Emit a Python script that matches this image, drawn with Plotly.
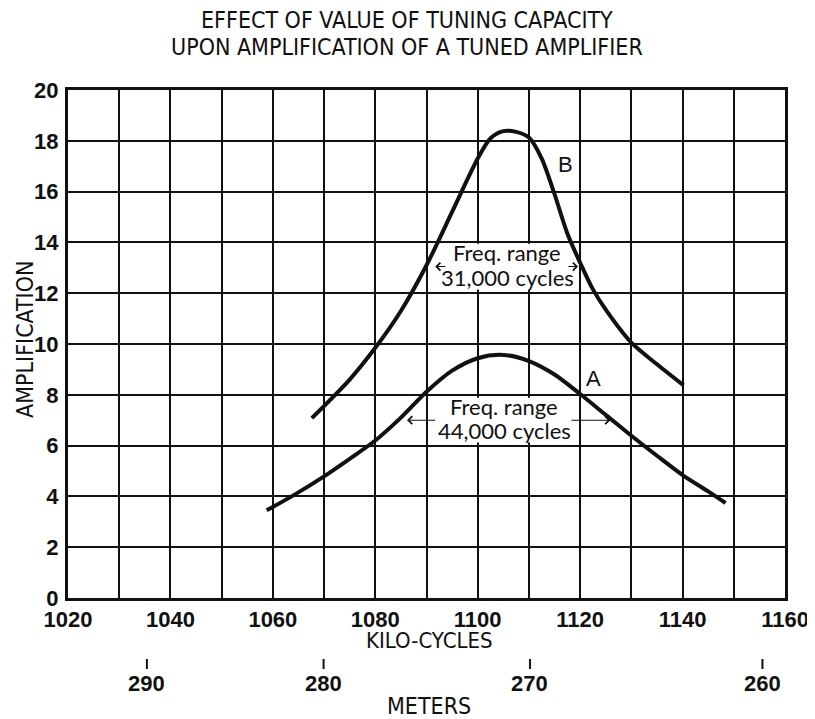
import plotly.graph_objects as go

# ---- data ----
kc_b = [1067.6, 1075, 1080, 1085, 1090, 1095, 1100, 1102.5, 1105, 1107.5, 1110,
        1112.5, 1115, 1117.5, 1120, 1122.5, 1125, 1130, 1135, 1140.2]
amp_b = [7.08, 8.6, 9.85, 11.3, 13.1, 15.2, 17.3, 18.1, 18.38, 18.35, 18.13,
         17.3, 15.9, 14.35, 13.2, 12.15, 11.35, 10.05, 9.2, 8.37]

kc_a = [1058.8, 1064, 1070, 1075, 1080, 1085, 1090, 1095, 1100, 1105,
        1110, 1115, 1120, 1125, 1130, 1135, 1140, 1145, 1148.4]
amp_a = [3.45, 4.04, 4.79, 5.48, 6.2, 7.1, 8.12, 8.95, 9.44, 9.57,
         9.33, 8.8, 8.03, 7.21, 6.39, 5.6, 4.84, 4.2, 3.74]

kc_grid = [1020, 1030, 1040, 1050, 1060, 1070, 1080, 1090, 1100, 1110, 1120, 1130, 1140, 1150, 1160]
kc_labels = ["1020", "", "1040", "", "1060", "", "1080", "", "1100", "", "1120", "", "1140", "", "1160"]
amp_ticks = [0, 2, 4, 6, 8, 10, 12, 14, 16, 18, 20]

meter_pos_kc = [1035.4, 1069.9, 1110.2, 1155.6]
meter_labels = ["290", "280", "270", "260"]

title_lines = ["EFFECT OF VALUE OF TUNING CAPACITY", "UPON AMPLIFICATION OF A TUNED AMPLIFIER"]

# half-power band notes
band_b = dict(left=1091.7, right=1119.6, tail_l=1094.0, tail_r=1117.4, level=13.05, cx=1105.8,
              lines=[("Freq. range", 13.6), ("31,000 cycles", 12.62)],
              box=(1093.6, 1118.4, 12.15, 13.95))
band_a = dict(left=1086.2, right=1125.9, tail_l=1092.0, tail_r=1118.0, level=7.0, cx=1105.2,
              lines=[("Freq. range", 7.54), ("44,000 cycles", 6.58)],
              box=(1091.0, 1116.8, 6.12, 7.88))

NARROW = "Liberation Sans Narrow, DejaVu Sans Condensed, Arial Narrow, sans-serif"
SANS = "Liberation Sans, Arial, sans-serif"
TXT = "Lato, Liberation Sans, sans-serif"
INK = "#111"

fig = go.Figure()
for xs, ys in ((kc_b, amp_b), (kc_a, amp_a)):
    fig.add_trace(go.Scatter(x=xs, y=ys, mode="lines",
                             line=dict(color=INK, width=4, shape="spline", smoothing=0.8),
                             showlegend=False, hoverinfo="skip"))

ann, shapes = [], []
for band in (band_b, band_a):
    x0, x1, y0, y1 = band["box"]
    shapes.append(dict(type="rect", xref="x", yref="y", x0=x0, x1=x1, y0=y0, y1=y1, layer="between",
                       fillcolor="white", line=dict(width=0)))
    for txt, yv in band["lines"]:
        ann.append(dict(x=band["cx"], y=yv, xref="x", yref="y", text=txt, showarrow=False,
                        xanchor="center", yanchor="middle", font=dict(family=TXT, size=22, color=INK)))
    for tip, tail in ((band["left"], band["tail_l"]), (band["right"], band["tail_r"])):
        ann.append(dict(x=tip, y=band["level"], ax=tail, ay=band["level"], xref="x", yref="y",
                        axref="x", ayref="y", text="", showarrow=True, arrowhead=4, arrowsize=1.4,
                        arrowwidth=1.1, arrowcolor=INK))

ann.append(dict(x=1117.1, y=17.05, xref="x", yref="y", text="B", showarrow=False, xanchor="center",
                font=dict(family=SANS, size=22, color=INK)))
ann.append(dict(x=1122.7, y=8.66, xref="x", yref="y", text="A", showarrow=False, xanchor="center",
                font=dict(family=SANS, size=22, color=INK)))

# title (two lines)
for line, shift in zip(title_lines, (70, 43)):
    ann.append(dict(x=0.4728, y=1, xref="paper", yref="paper", yshift=shift, xanchor="center",
                    yanchor="middle", text=line, showarrow=False,
                    font=dict(family=NARROW, size=23, color=INK)))

# axis titles
ann.append(dict(x=0, y=0.508, xref="paper", yref="paper", xshift=-43, xanchor="center", yanchor="middle",
                text="AMPLIFICATION", textangle=-90, showarrow=False,
                font=dict(family=NARROW, size=23, color=INK)))
ann.append(dict(x=0.5035, y=0, xref="paper", yref="paper", yshift=-42, xanchor="center", yanchor="middle",
                text="KILO-CYCLES", showarrow=False, font=dict(family=NARROW, size=22, color=INK)))
ann.append(dict(x=0.5035, y=0, xref="paper", yref="paper", yshift=-108, xanchor="center", yanchor="middle",
                text="METERS", showarrow=False, font=dict(family=NARROW, size=23, color=INK)))

# meters scale
for pos, lab in zip(meter_pos_kc, meter_labels):
    ann.append(dict(x=pos, y=0, xref="x", yref="paper", yshift=-85, xanchor="center", yanchor="middle",
                    text=lab, showarrow=False, font=dict(family=SANS, size=22, color=INK, weight="bold")))
    shapes.append(dict(type="line", xref="x", yref="paper", x0=pos, x1=pos, y0=-61 / 508, y1=-71 / 508,
                       line=dict(color=INK, width=2)))

# the page body has an 8px margin, so the figure is 8px smaller than the window
fig.update_layout(
    width=807, height=711,
    margin=dict(l=60, r=30, t=82, b=121, autoexpand=False),
    paper_bgcolor="white", plot_bgcolor="white",
    annotations=ann, shapes=shapes,
)
axis_common = dict(showgrid=True, gridcolor=INK, gridwidth=2, showline=True, linecolor=INK, linewidth=3,
                   mirror=True, zeroline=False, ticks="", automargin=False,
                   tickfont=dict(family=SANS, size=22, color=INK, weight="bold"))
fig.update_xaxes(range=[1020, 1160], tickvals=kc_grid, ticktext=kc_labels, ticklabelstandoff=0, **axis_common)
fig.update_yaxes(range=[0, 20], tickvals=amp_ticks, ticklabelstandoff=2, **axis_common)

fig.write_html("out.html")
